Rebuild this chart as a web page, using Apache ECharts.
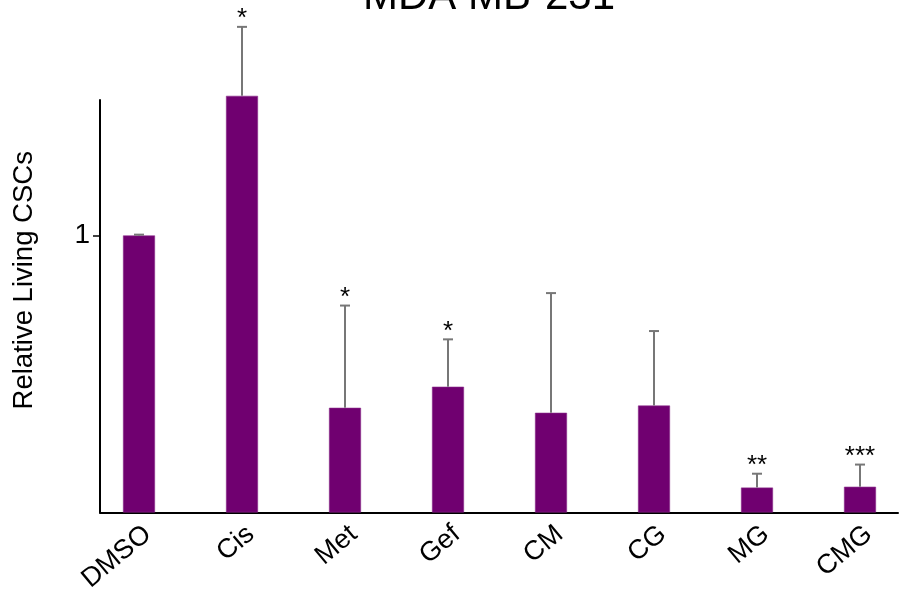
<!DOCTYPE html>
<html>
<head>
<meta charset="utf-8">
<script src="https://cdn.jsdelivr.net/npm/echarts@6/dist/echarts.min.js"></script>
<style>
  html, body { margin: 0; padding: 0; background: #fff; }
  #chart { width: 899px; height: 590px; }
</style>
</head>
<body>
<div id="chart"></div>
<script>
// Relative number of living cancer stem cells per treatment
const categories = ['DMSO', 'Cis', 'Met', 'Gef', 'CM', 'CG', 'MG', 'CMG'];
const means = [1.0, 1.504, 0.378, 0.454, 0.360, 0.386, 0.090, 0.093];
const errors = [0.003, 0.249, 0.369, 0.171, 0.432, 0.269, 0.050, 0.080];
const significance = ['', '*', '*', '*', '', '', '**', '***'];
const yTicks = [1];

const FONT = 'Liberation Sans, Arial, sans-serif';
const BAR = '#700070';
const Y_MAX = 1.489;

const chart = echarts.init(document.getElementById('chart'));

const errData = means.map((m, i) => [i, m, m + errors[i]]);

chart.setOption({
  animation: false,
  backgroundColor: '#ffffff',
  title: {
    text: 'MDA MB-231',
    left: 484,
    textAlign: 'center',
    top: -29,
    textStyle: { fontFamily: FONT, fontSize: 42, fontWeight: 'normal', color: '#000' }
  },
  grid: [
    { left: 87.5, width: 824, top: 100, bottom: 77.5, outerBoundsMode: 'none', containLabel: false },
    { left: 100, width: 798, top: 100, bottom: 77.5, outerBoundsMode: 'none', containLabel: false }
  ],
  xAxis: [
    {
      type: 'category',
      gridIndex: 0,
      data: categories,
      boundaryGap: true,
      axisLine: { show: false },
      axisTick: { show: false },
      axisLabel: {
        rotate: 40,
        margin: 8,
        verticalAlign: 'top',
        fontFamily: FONT,
        fontSize: 27,
        color: '#000'
      }
    },
    {
      type: 'value',
      gridIndex: 1,
      min: 0, max: 1,
      axisLine: { show: true, lineStyle: { color: '#000', width: 2 } },
      axisTick: { show: false },
      axisLabel: { show: false },
      splitLine: { show: false }
    }
  ],
  yAxis: [
    {
      type: 'value',
      gridIndex: 0,
      min: 0, max: Y_MAX,
      show: false,
      splitLine: { show: false }
    },
    {
      type: 'value',
      gridIndex: 1,
      min: 0, max: Y_MAX,
      name: 'Relative Living CSCs',
      nameLocation: 'middle',
      nameRotate: 90,
      nameGap: 62,
      nameTextStyle: { fontFamily: FONT, fontSize: 27.5, color: '#000', padding: [0, 0, 0, 52] },
      axisLine: { show: true, lineStyle: { color: '#000', width: 2 } },
      axisTick: { show: true, length: 7, customValues: yTicks, lineStyle: { color: '#000', width: 1.5 } },
      axisLabel: { customValues: yTicks, margin: 10, fontFamily: FONT, fontSize: 28, color: '#000' },
      splitLine: { show: false }
    }
  ],
  series: [
    {
      type: 'bar',
      xAxisIndex: 0,
      yAxisIndex: 0,
      data: means,
      barWidth: 32,
      clip: false,
      itemStyle: { color: BAR, borderColor: '#8a2a8a', borderWidth: 0.6 },
      z: 2
    },
    {
      type: 'custom',
      xAxisIndex: 0,
      yAxisIndex: 0,
      clip: false,
      data: errData,
      z: 3,
      renderItem: function (params, api) {
        const i = api.value(0);
        const base = api.coord([i, api.value(1)]);
        const top = api.coord([i, api.value(2)]);
        const mark = significance[i];
        const children = [
          {
            type: 'line',
            shape: { x1: top[0], y1: base[1], x2: top[0], y2: top[1] },
            style: { stroke: '#777', lineWidth: 2 }
          },
          {
            type: 'line',
            shape: { x1: top[0] - 5, y1: top[1], x2: top[0] + 5, y2: top[1] },
            style: { stroke: '#777', lineWidth: 2 }
          }
        ];
        if (mark) {
          children.push({
            type: 'text',
            x: top[0],
            y: top[1] + 5,
            style: {
              text: mark,
              fontFamily: FONT,
              fontSize: 26,
              fill: '#000',
              align: 'center',
              verticalAlign: 'bottom'
            }
          });
        }
        return { type: 'group', children: children };
      }
    }
  ]
});
</script>
</body>
</html>
